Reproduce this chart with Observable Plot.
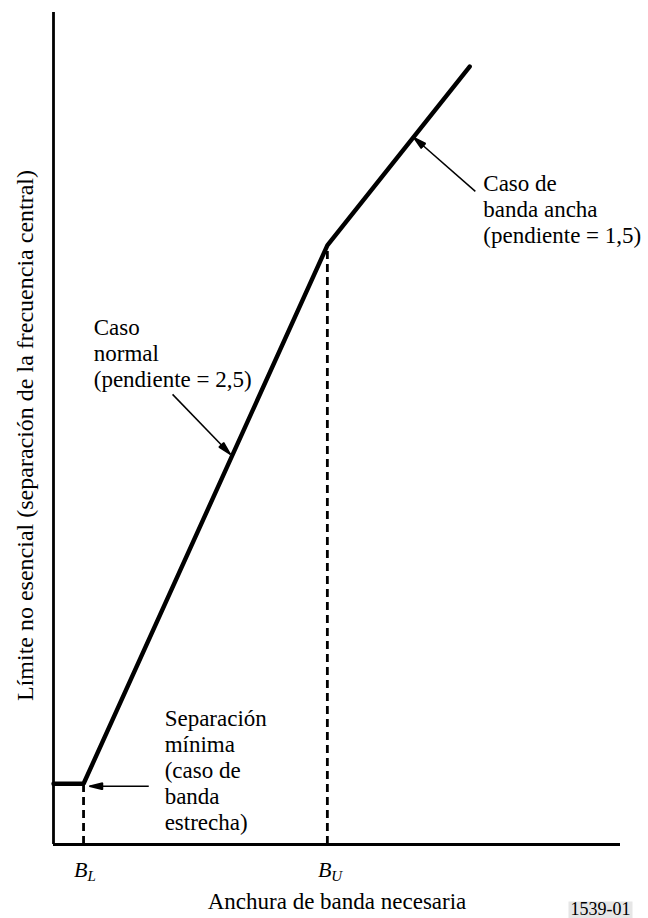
<!DOCTYPE html>
<html><head><meta charset="utf-8">
<script src="https://cdn.jsdelivr.net/npm/d3@7"></script>
<script src="https://cdn.jsdelivr.net/npm/@observablehq/plot@0.6"></script>
<style>
html,body{margin:0;padding:0;background:#fff;overflow:hidden}
svg text, svg tspan{font-family:"Liberation Serif","Times New Roman",Times,serif !important}
</style>
</head><body><div id="chart"></div>
<script>
// ---- data (arbitrary units) ----
const bandwidth = [0, 5.3, 48.3, 73.4];      // necessary bandwidth
const limit     = [7.3, 7.3, 72.0, 93.5];    // spurious domain limit
const tickX     = [5.3, 48.3];               // B_L, B_U
const tickTop   = [7.3, 72.0];
const tickSub   = ["L", "U"];
const noteText  = [
  "Caso de\nbanda ancha\n(pendiente = 1,5)",
  "Caso\nnormal\n(pendiente = 2,5)",
  "Separación\nmínima\n(caso de\nbanda\nestrecha)"
];
const noteX = [75.8, 7.1, 19.6];
const noteY = [72.3, 55.0, 1.8];
const arrowX1 = [74.4, 21.0, 16.8];
const arrowY1 = [78.5, 54.1, 7.0];
const arrowX2 = [63.5, 31.2, 6.35];
const arrowY2 = [85.0, 46.9, 7.0];
const yTitle = "Límite no esencial (separación de la frecuencia central)";
const xTitle = "Anchura de banda necesaria";
const figId = "1539-01";

const points = bandwidth.map((x, i) => ({x, y: limit[i]}));
const ticks = tickX.map((x, i) => ({x, top: tickTop[i], sub: tickSub[i]}));
const notes = noteText.map((t, i) => ({t, x: noteX[i], y: noteY[i]}));
const arrows = arrowX1.map((x1, i) => ({x1, y1: arrowY1[i], x2: arrowX2[i], y2: arrowY2[i]}));

const NS = "http://www.w3.org/2000/svg";
function arrowHead(color, context) {
  const doc = (context && context.document) || document;
  const m = doc.createElementNS(NS, "marker");
  m.setAttribute("viewBox", "-14 -4 15 8");
  m.setAttribute("markerWidth", "15");
  m.setAttribute("markerHeight", "8");
  m.setAttribute("markerUnits", "userSpaceOnUse");
  m.setAttribute("refX", "0");
  m.setAttribute("refY", "0");
  m.setAttribute("orient", "auto");
  const p = doc.createElementNS(NS, "path");
  p.setAttribute("d", "M0,0L-13,-3.2L-13,3.2Z");
  p.setAttribute("fill", color);
  m.appendChild(p);
  return m;
}

const fontFamily = '"Liberation Serif","Times New Roman",Times,serif';
const chart = Plot.plot({
  width: 648, height: 918,
  marginLeft: 53, marginRight: 28, marginTop: 12, marginBottom: 74,
  x: {domain: [0, 100], axis: null},
  y: {domain: [0, 100], axis: null},
  style: {fontFamily, fontSize: "23px", color: "#000", background: "#fff"},
  marks: [
    Plot.ruleX(ticks, {x: "x", y1: 0, y2: "top", stroke: "#000", strokeWidth: 2.8, strokeDasharray: "8,5"}),
    Plot.ruleY([0], {stroke: "#000", strokeWidth: 2.8}),
    Plot.ruleX([0], {stroke: "#000", strokeWidth: 2.8}),
    Plot.line(points, {x: "x", y: "y", stroke: "#000", strokeWidth: 4.4, strokeLinejoin: "miter"}),
    Plot.link(arrows, {x1: "x1", y1: "y1", x2: "x2", y2: "y2", stroke: "#000", strokeWidth: 1.5, markerEnd: arrowHead}),
    Plot.text(notes, {x: "x", y: "y", text: "t", textAnchor: "start", lineAnchor: "bottom", lineHeight: 1.13, fontSize: 23, fontFamily, fill: "#000"}),
    Plot.text(ticks, {x: "x", text: () => "B", frameAnchor: "bottom", dy: 32, dx: 4, textAnchor: "end", lineAnchor: "bottom", fontStyle: "italic", fontSize: 22, fontFamily, fill: "#000"}),
    Plot.text(ticks, {x: "x", text: "sub", frameAnchor: "bottom", dy: 36, dx: 4, textAnchor: "start", lineAnchor: "bottom", fontStyle: "italic", fontSize: 15, fontFamily, fill: "#000"}),
    Plot.text([yTitle], {frameAnchor: "left", dx: -21, dy: 7, rotate: -90, textAnchor: "middle", lineAnchor: "bottom", fontSize: 24, fontFamily, fill: "#000"}),
    Plot.text([xTitle], {frameAnchor: "bottom", dy: 64, textAnchor: "middle", lineAnchor: "bottom", fontSize: 23, fontFamily, fill: "#000"}),
    Plot.text([figId], {frameAnchor: "bottom-right", dx: 10, dy: 70, textAnchor: "end", lineAnchor: "bottom", fontSize: 18, fontFamily, fill: "#000"})
  ]
});
document.getElementById("chart").appendChild(chart);

// light grey tag behind the figure number
d3.select(chart).selectAll("text").filter(function () { return this.textContent === figId; }).each(function () {
  const b = this.getBBox();
  const g = this.parentNode;
  const t = this.getAttribute("transform");
  const r = document.createElementNS(NS, "rect");
  r.setAttribute("x", b.x - 2);
  r.setAttribute("y", b.y + 3);
  r.setAttribute("width", b.width + 4);
  r.setAttribute("height", b.height);
  r.setAttribute("fill", "#e6e6e6");
  if (t) r.setAttribute("transform", t);
  g.insertBefore(r, this);
});
</script>
</body></html>
